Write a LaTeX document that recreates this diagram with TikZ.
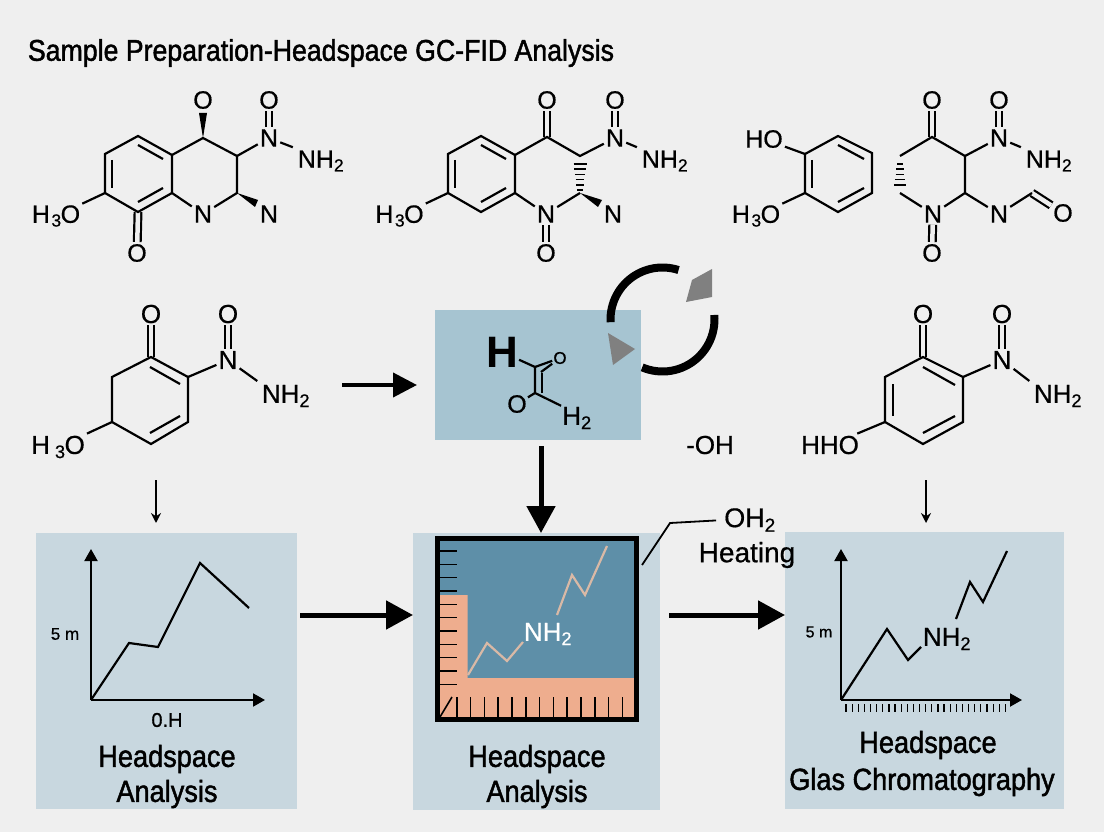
\documentclass[tikz,border=0pt]{standalone}
\usepackage{fontspec}
\setmainfont{Liberation Sans}[UprightFeatures={FakeBold=0.6}]
\newfontfamily\narrowsans[FakeStretch=0.89,FakeBold=1.5]{Liberation Sans}
\usetikzlibrary{calc,arrows.meta}
\definecolor{pagebg}{HTML}{EFEFEF}
\definecolor{panelblue}{HTML}{C8D7DF}
\definecolor{reagentblue}{HTML}{A6C4D1}
\definecolor{plotblue}{HTML}{5E8FA8}
\definecolor{plotsalmon}{HTML}{EEAD8E}
\definecolor{plottrace}{HTML}{D9B9A6}
\definecolor{spingray}{HTML}{808080}
\newcommand{\methoxy}{H\kern1.5pt\textsubscript{3}\kern-1pt O}
\tikzset{
  atom/.style={font=\fontsize{25}{26}\selectfont,inner sep=2pt},
  bigatom/.style={font=\fontsize{26}{28}\selectfont,inner sep=2pt},
  bond/.style={line width=2.2pt},
  dblbond/.style={line width=2.2pt,double=pagebg,double distance=4.5pt},
  hashbond/.style={line width=1.7pt},
  panel/.style={fill=panelblue,inner sep=0pt,outer sep=0pt},
  caption/.style={font=\narrowsans\fontsize{30.5}{32}\selectfont,inner sep=0pt},
  axis/.style={line width=2pt,-{Triangle[length=12pt,width=13pt]}},
  trace/.style={line width=2.2pt,line join=miter},
  tick/.style={line width=1.6pt},
  heavy/.style={line width=5pt,-{Triangle[length=27pt,width=28pt]}},
  medium/.style={line width=4pt,-{Triangle[length=24pt,width=24pt]}},
  slim/.style={line width=2pt,-{Stealth[length=10pt,width=10pt]}},
  spin/.style={line width=8pt}
}
\begin{document}
\begin{tikzpicture}[x=1pt,y=-1pt]
\fill[pagebg] (0,0) rectangle (1104,832);
\node[font=\narrowsans\fontsize{30}{32}\selectfont,inner sep=0pt] (title) at (321,53) {Sample Preparation-Headspace GC-FID Analysis};

% top row, first molecule
\foreach \n/\x/\y in {a1/138/136,a2/172/155,a3/172/193,a4/138/212,a5/105/193,a6/105/154,a7/203/138,a8/237/156,a9/237/193} \coordinate (\n) at (\x,\y);
\node[atom] (an) at (203,214) {N};
\node[atom] (aox) at (203,100) {O};
\node[atom] (ano) at (269,138) {N};
\node[atom] (anoo) at (269,100) {O};
\node[atom] (anh) at (321,161) {NH\textsubscript{2}};
\node[atom] (anr) at (269,214) {N};
\node[atom] (alo) at (137,253) {O};
\node[atom] (ame) at (56,216) {\methoxy};
\draw[dblbond] (ano) -- (anoo);
\draw[dblbond] (a4) -- (alo);
\draw[bond] (a1) -- (a2) -- (a3) -- (a4) -- (a5) -- (a6) -- cycle;
\draw[bond] (a2) -- (a7) -- (a8) -- (a9) -- (an) -- (a3);
\draw[bond] (a8) -- (ano);
\draw[bond,shorten >=3pt] (ano) -- (anh.north west);
\draw[bond] (a5) -- (ame);
\draw[bond] (138,145) -- (163,159);
\draw[bond] (112,160) -- (112,188);
\draw[bond] (138,202) -- (163,188);
\fill (a7) -- (199,113) -- (207,113) -- cycle;
\fill (a9) -- (258,200) -- (255,207) -- cycle;

% top row, second molecule
\foreach \n/\x/\y in {b1/481/136,b2/515/155,b3/515/193,b4/481/212,b5/448/193,b6/448/154,b7/547/137,b8/580/156,b9/580/193} \coordinate (\n) at (\x,\y);
\node[atom] (bn) at (546,214) {N};
\node[atom] (box) at (547,100) {O};
\node[atom] (bno) at (615,138) {N};
\node[atom] (bnoo) at (615,100) {O};
\node[atom] (bnh) at (665,161) {NH\textsubscript{2}};
\node[atom] (bnr) at (613,214) {N};
\node[atom] (blo) at (546,253) {O};
\node[atom] (bme) at (399.5,216) {\methoxy};
\draw[dblbond] (box) -- (b7);
\draw[dblbond] (bno) -- (bnoo);
\draw[dblbond] (bn) -- (blo);
\draw[bond] (b1) -- (b2) -- (b3) -- (b4) -- (b5) -- (b6) -- cycle;
\draw[bond] (b2) -- (b7) -- (b8) -- (bno);
\draw[bond] (b3) -- (bn) -- (b9);
\draw[bond,shorten >=3pt] (bno) -- (bnh.north west);
\draw[bond] (b5) -- (bme);
\draw[bond] (481,145) -- (506,159);
\draw[bond] (455,160) -- (455,188);
\draw[bond] (481,202) -- (506,188);
\foreach \i in {0,...,5}
  \draw[hashbond] (573.5+\i*0.7,164+\i*5.2) -- (586.5-\i*0.7,164+\i*5.2);
\fill (b9) -- (602,200) -- (598,207) -- cycle;

% top row, third molecule: ring and open ring
\foreach \n/\x/\y in {c1/838/136,c2/872/153,c3/872/193,c4/838/212,c5/805/193,c6/805/154,c7/932/137,c8/965/156,c9/965/193,c10/900/156,c11/900/193,c12/1032/193} \coordinate (\n) at (\x,\y);
\node[atom] (chy) at (764,139) {HO};
\node[atom] (cme) at (756,216) {\methoxy};
\node[atom] (cn) at (933,214) {N};
\node[atom] (cox) at (932,100) {O};
\node[atom] (cno) at (999,138) {N};
\node[atom] (cnoo) at (999,100) {O};
\node[atom] (cnh) at (1049,161) {NH\textsubscript{2}};
\node[atom] (cnr) at (999,214) {N};
\node[atom] (cfo) at (1063,213) {O};
\node[atom] (clo) at (932,253) {O};
\draw[dblbond] (cox) -- (c7);
\draw[dblbond] (cno) -- (cnoo);
\draw[dblbond] (cn) -- (clo);
\draw[dblbond] (c12) -- (cfo);
\draw[bond] (c1) -- (c2) -- (c3) -- (c4) -- (c5) -- (c6) -- cycle;
\draw[bond] (c6) -- (chy);
\draw[bond] (c5) -- (cme);
\draw[bond] (838,145) -- (864,159);
\draw[bond] (812,160) -- (812,188);
\draw[bond] (838,202) -- (864,188);
\draw[bond] (c10) -- (c7) -- (c8) -- (cno);
\draw[bond] (c8) -- (c9) -- (cn) -- (c11);
\draw[bond] (c9) -- (cnr) -- (c12);
\draw[bond,shorten >=3pt] (cno) -- (cnh.north west);
\foreach \i in {0,...,4}
  \draw[hashbond] (897-\i*0.7,164+\i*5.2) -- (903+\i*0.7,164+\i*5.2);

% middle row, left molecule
\foreach \n/\x/\y in {d1/151/357,d2/188/377,d3/188/422,d4/151/444,d5/112/422,d6/112/377} \coordinate (\n) at (\x,\y);
\node[bigatom] (dox) at (151,314) {O};
\node[bigatom] (dno) at (228,360) {N};
\node[bigatom] (dnoo) at (228,314) {O};
\node[bigatom] (dnh) at (286,396) {NH\textsubscript{2}};
\node[bigatom] (dme) at (58,447) {H\kern5pt\textsubscript{3}\kern-1pt O};
\draw[dblbond] (dox) -- (d1);
\draw[dblbond] (dno) -- (dnoo);
\draw[bond] (d1) -- (d2) -- (d3) -- (d4) -- (d5) -- (d6) -- cycle;
\draw[bond] (d2) -- (dno);
\draw[bond,shorten >=3pt] (dno) -- (dnh.north west);
\draw[bond] (d5) -- (dme);
\draw[bond] (150,367) -- (180,384);
\draw[bond] (180,416) -- (150,433);

% middle row, right molecule
\foreach \n/\x/\y in {e1/923/357,e2/963/377,e3/963/422,e4/923/444,e5/885/422,e6/885/377} \coordinate (\n) at (\x,\y);
\node[bigatom] (eox) at (923,314) {O};
\node[bigatom] (eno) at (1002,360) {N};
\node[bigatom] (enoo) at (1002,314) {O};
\node[bigatom] (enh) at (1058,396) {NH\textsubscript{2}};
\node[bigatom] (ehy) at (830,445) {HHO};
\draw[dblbond] (eox) -- (e1);
\draw[dblbond] (eno) -- (enoo);
\draw[bond] (e1) -- (e2) -- (e3) -- (e4) -- (e5) -- (e6) -- cycle;
\draw[bond] (e2) -- (eno);
\draw[bond,shorten >=3pt] (eno) -- (enh.north west);
\draw[bond] (e5) -- (ehy);
\draw[bond] (923,367) -- (955,385);
\draw[bond] (893,384) -- (893,416);
\draw[bond] (955,416) -- (923,433);

% reagent box
\node[fill=reagentblue,inner sep=0pt,outer sep=0pt,minimum width=206pt,minimum height=130pt] (reagent) at (538,375) {};
\foreach \n/\x/\y in {f1/535/367,f2/535/393} \coordinate (\n) at (\x,\y);
\node[inner sep=1pt,font=\bfseries\fontsize{44}{46}\selectfont] (fh) at (502,352) {H};
\node[inner sep=1pt,font=\fontsize{17}{18}\selectfont] (fo) at (560,358) {O};
\node[inner sep=1pt,font=\fontsize{25}{26}\selectfont] (flo) at (517,404) {O};
\node[inner sep=1pt,font=\fontsize{26}{28}\selectfont] (fhh) at (577,418) {H\textsubscript{2}};
\draw[bond] (fh) -- (f1) -- (f2) -- (flo);
\draw[bond] (542,373) -- (542,393);
\draw[bond] (f2) -- (fhh.north west);
\draw[bond] (f1) -- (fo);
\draw[bond] (541,372) -- (fo);
\draw[spin] plot[domain=183:72,samples=30] ({662.5+52*cos(\x)},{319.5-52*sin(\x)});
\draw[spin] plot[domain=5:-113,samples=30] ({662.5+52*cos(\x)},{319.5-52*sin(\x)});
\fill[spingray] (608,333) -- (635,349) -- (613,365) -- cycle;
\fill[spingray] (712,269) -- (712,297) -- (686,302) -- (692,280) -- cycle;
\node[inner sep=0pt,font=\fontsize{26}{28}\selectfont] (hydroxy) at (710,445) {-OH};

% panels
\node[panel,minimum width=261pt,minimum height=276pt] (panelA) at (166.5,671) {};
\node[panel,minimum width=247pt,minimum height=277pt] (panelB) at (536.5,671.5) {};
\node[panel,minimum width=279pt,minimum height=277pt] (panelC) at (924.5,670.5) {};

% left panel
\coordinate (originA) at (91,700);
\draw[axis] (originA) -- (91,549);
\draw[axis] (originA) -- (265,700);
\draw[trace] (originA) -- (129,643) -- (158,647) -- (200,563) -- (249,608);
\node[inner sep=0pt,font=\fontsize{17}{18}\selectfont] (scaleA) at (65,634) {5 m};
\node[inner sep=0pt,font=\fontsize{20}{22}\selectfont] (unitA) at (167,720) {0.H};
\node[caption] (capA) at (167,759) {Headspace};
\node[caption] (capAb) at (167,794) {Analysis};

% middle panel
\fill[plotblue] (437,538) rectangle (637,720);
\fill[plotsalmon] (437,720) -- (437,595) -- (467.5,595) -- (467.5,678) -- (637,678) -- (637,720) -- cycle;
\foreach \n in {0,...,10}
  \draw[tick] (440,551+\n*13.33) -- (457,551+\n*13.33);
\foreach \n in {0,...,12}
  \draw[tick] (456.7+\n*13.8,697) -- (456.7+\n*13.8,717);
\draw[tick] (440,717) -- (452,697);
\draw[trace,plottrace] (468,675) -- (487,643) -- (507,661) -- (523,642);
\draw[trace,plottrace] (557,615) -- (572,575) -- (585,595) -- (607,546);
\node[inner sep=0pt,text=white,font=\fontsize{26}{28}\selectfont] (amineB) at (548,634) {NH\textsubscript{2}};
\node[draw=black,line width=5pt,minimum width=199pt,minimum height=181pt] (plotframe) at (537,629) {};
\node[caption] (capB) at (537,759) {Headspace};
\node[caption] (capBb) at (537,794) {Analysis};

% right panel
\coordinate (originC) at (841,700);
\draw[axis] (originC) -- (841,549);
\draw[axis] (originC) -- (1022,700);
\draw[trace] (originC) -- (887,629) -- (908,660) -- (921,647);
\draw[trace] (956,619) -- (970,582) -- (983,602) -- (1007,551);
\foreach \n in {0,...,26}
  \draw[line width=1.2pt] (846+\n*6.13,704) -- (846+\n*6.13,712);
\node[inner sep=0pt,font=\fontsize{16}{18}\selectfont] (scaleC) at (819,632) {5 m};
\node[inner sep=0pt,font=\fontsize{26}{28}\selectfont] (amineC) at (947,639) {NH\textsubscript{2}};
\node[caption] (capC) at (928,745) {Headspace};
\node[caption] (capCb) at (922,782) {Glas Chromatography};

% callout
\node[inner sep=0pt,font=\fontsize{27}{29}\selectfont] (oh2) at (750,520) {OH\textsubscript{2}};
\node[inner sep=0pt,font=\fontsize{28}{30}\selectfont] (heating) at (747,555) {Heating};
\coordinate (knee) at (670,523);
\coordinate (tail) at (642,565);
\draw[line width=1.8pt,shorten >=8pt] (tail) -- (knee) -- (oh2.west);

% arrows
\coordinate (rowmid) at (0,615);
\coordinate (midcol) at (541,0);
\coordinate (startD) at (342,385);
\coordinate (startA) at (156,480);
\coordinate (startC) at (926,480);
\draw[medium,shorten >=18pt] (startD) -- (reagent.west |- startD);
\draw[heavy,shorten <=6pt] (reagent.south -| midcol) -- (panelB.north -| midcol);
\draw[heavy,shorten <=3pt] (panelA.east |- rowmid) -- (panelB.west |- rowmid);
\draw[heavy,shorten <=9pt] (panelB.east |- rowmid) -- (panelC.west |- rowmid);
\draw[slim,shorten >=10pt] (startA) -- (startA |- panelA.north);
\draw[slim,shorten >=9pt] (startC) -- (startC |- panelC.north);
\end{tikzpicture}
\end{document}
